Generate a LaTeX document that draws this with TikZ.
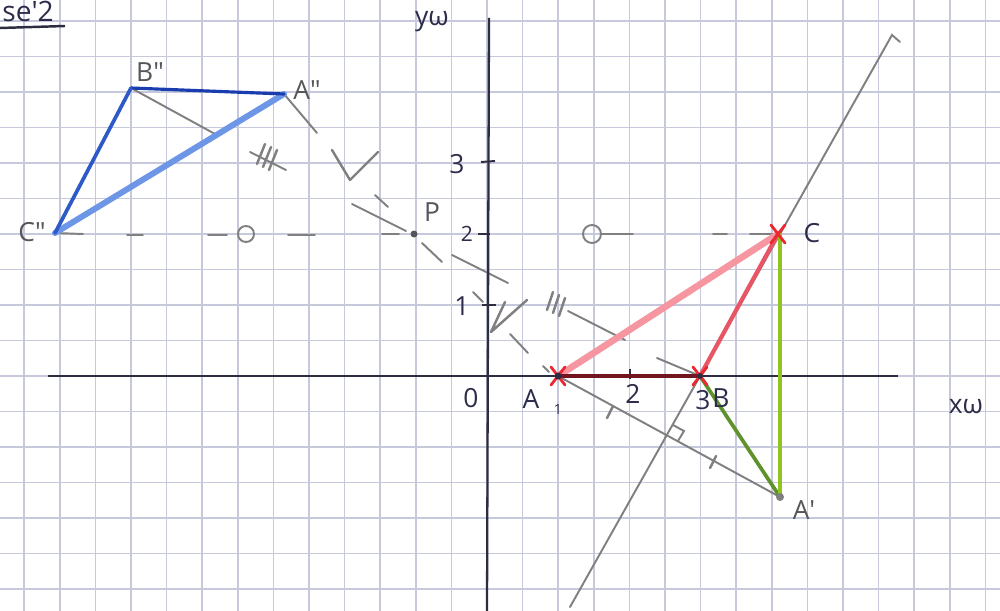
\documentclass[tikz,border=0pt]{standalone}
\usepackage{fontspec}
\setmainfont{Open Sans}
\usetikzlibrary{calc}
\definecolor{gridc}{RGB}{198,200,220}
\definecolor{axisc}{RGB}{45,45,65}
\definecolor{consc}{RGB}{128,128,128}
\definecolor{ink}{RGB}{45,45,75}
\definecolor{pencil}{RGB}{85,85,90}
\definecolor{bluedark}{RGB}{25,60,175}
\definecolor{bluemid}{RGB}{45,90,200}
\definecolor{bluelight}{RGB}{110,150,230}
\definecolor{pinkl}{RGB}{246,150,160}
\definecolor{redm}{RGB}{232,85,100}
\definecolor{maroonc}{RGB}{115,20,30}
\definecolor{greend}{RGB}{95,145,45}
\definecolor{greenl}{RGB}{145,195,35}
\definecolor{crossred}{RGB}{235,40,50}
\begin{document}
\begin{tikzpicture}[x=0.02cm,y=-0.02cm,
  gridline/.style={draw=gridc,line width=1pt},
  axisline/.style={draw=axisc,line width=1.3pt},
  tickline/.style={draw=axisc,line width=1.1pt},
  cons/.style={draw=consc,line width=1.1pt,line cap=round},
  consmark/.style={draw=consc,line width=1.4pt,line cap=round,line join=round},
  lbl/.style={font=\fontsize{15}{16}\selectfont,text=ink,inner sep=0pt},
  plbl/.style={font=\fontsize{15}{16}\selectfont,text=pencil,inner sep=0pt},
  crossmark/.style={draw=crossred,line width=1.6pt,line cap=round}]
\useasboundingbox (0,0) rectangle (1000,611);
\clip (0,0) rectangle (1000,611);
\fill[white] (0,0) rectangle (1000,611);
% grid
\foreach \i in {-14,...,15} \draw[gridline] ({487+35.6*\i},0) -- ({487+35.6*\i},611);
\foreach \j in {-11,...,7} \draw[gridline] (0,{376+35.5*\j}) -- (1000,{376+35.5*\j});
% points
\coordinate (O) at (487,376);
\coordinate (A) at (558,376);
\coordinate (B) at (700,376);
\coordinate (C) at (778,234);
\coordinate (Ap) at (780,497);
\coordinate (P) at (414,234);
\coordinate (App) at (284,94);
\coordinate (Bpp) at (131,88);
\coordinate (Cpp) at (55,233);
\coordinate (I) at (667,435);
\coordinate (Dlo) at (570,607);
\coordinate (Dhi) at (892,35);
\coordinate (Dhook) at (900,42);
\coordinate (Ytop) at (489,18);
\coordinate (Ybot) at (487,611);
\coordinate (Xl) at (48,376);
\coordinate (Xr) at (898,376);
% heading
\node[lbl,anchor=west,font=\fontsize{16}{17}\selectfont] (head) at (2,11) {se\textquotesingle 2};
\draw[axisc,line width=1.4pt] (0,28) -- (65,26);
% construction: line through B and C
\draw[cons] (Dlo) -- (Dhi) -- (Dhook);
% A to A'
\draw[cons] (A) -- (Ap);
\draw[consmark] (607,418) -- (613,406);
\draw[consmark] (710,468) -- (716,456);
\draw[cons] (673,425) -- (684,431) -- (678,441);
% B'' to B dashed through P
\draw[cons] (Bpp) -- (215,134);
\draw[cons] (250,152) -- (286,170);
\foreach \x/\y in {261/154,267/157,273/160} \draw[consmark] (\x-4,\y+10) -- (\x+4,\y-10);
\draw[cons] (352,204) -- (406,231);
\draw[cons] (452,255) -- (508,283);
\foreach \x/\y in {550/301,556/304,562/307} \draw[consmark] (\x-3,\y+9) -- (\x+3,\y-9);
\draw[cons] (568,311) -- (625,340);
\draw[cons] (657,358) -- (B);
% A'' to A dashed through P
\draw[cons] (App) -- (317,133);
\draw[consmark] (332,150) -- (350,180) -- (378,152);
\draw[cons] (375,195) -- (388,207);
\draw[cons] (422,243) -- (442,262);
\draw[cons] (473,292) -- (483,302);
\draw[consmark] (505,302) -- (491,332) -- (527,300);
\draw[cons] (510,334) -- (528,353);
\draw[cons] (543,366) -- (549,372);
% C'' to C dashed through P
\draw[cons] (Cpp) -- (83,234);
\draw[cons] (127,235) -- (143,235);
\draw[cons] (208,235) -- (227,235);
\draw[cons] (246,234) circle (8);
\draw[cons] (288,235) -- (315,235);
\draw[cons] (382,234) -- (399,234);
\draw[cons] (592,234) circle (9);
\draw[cons] (601,234) -- (633,234);
\draw[cons] (713,234) -- (727,234);
\draw[cons] (750,234) -- (C);
% axes
\draw[axisline] (Ytop) -- (Ybot);
\draw[axisline] (Xl) -- (Xr);
\draw[tickline] (481,162) -- (495,161);
\draw[tickline] (478,234) -- (490,234);
\draw[tickline] (482,305) -- (496,305);
\draw[tickline] (630,369) -- (630,379);
% red triangle ABC
\draw[line width=3.8pt,pinkl,line cap=round] (A) -- (C);
\draw[line width=2.4pt,redm,line cap=round] (B) -- (C);
\draw[line width=1.9pt,maroonc] (A) -- (B);
% green triangle
\draw[line width=2.1pt,greend,line cap=round] (B) -- (Ap);
\draw[line width=2.1pt,greenl,line cap=round] ($(C)+(2,0)$) -- (Ap);
% blue triangle
\draw[line width=3.4pt,bluelight,line cap=round] (Cpp) -- (App);
\draw[line width=1.8pt,bluedark,line cap=round] (Bpp) -- (App);
\draw[line width=2.1pt,bluemid,line cap=round] (Bpp) -- (Cpp);
% crosses
\foreach \p in {A,B,C} {
  \draw[crossmark] ($(\p)+(-7,-9)$) -- ($(\p)+(7,9)$);
  \draw[crossmark] ($(\p)+(7,-9)$) -- ($(\p)+(-7,9)$);
}
\fill[axisc] (A) circle (3.5);
\fill[axisc] (B) circle (3);
\fill[pencil] (P) circle (3.5);
\fill[consc] (Ap) circle (4);
% labels
\node[lbl] (ly) at (432,22) {yω};
\node[lbl] (lx) at (966,407) {xω};
\node[lbl] (l0) at (471,398) {0};
\node[lbl] (l1y) at (462,306) {1};
\node[lbl,font=\fontsize{12}{13}\selectfont] (l2y) at (467,234) {2};
\node[lbl] (l3y) at (457,164) {3};
\node[lbl,font=\fontsize{8}{8}\selectfont] (l1x) at (558,409) {1};
\node[lbl] (l2x) at (633,394) {2};
\node[lbl] (l3x) at (703,400) {3};
\node[lbl] (lA) at (531,399) {A};
\node[lbl] (lB) at (721,398) {B};
\node[lbl] (lC) at (812,233) {C};
\node[plbl] (lAp) at (804,510) {A\textquotesingle};
\node[plbl] (lP) at (432,212) {P};
\node[plbl] (lBpp) at (150,72) {B\textquotedbl};
\node[plbl] (lApp) at (307,90) {A\textquotedbl};
\node[plbl] (lCpp) at (32,232) {C\textquotedbl};
\end{tikzpicture}
\end{document}
